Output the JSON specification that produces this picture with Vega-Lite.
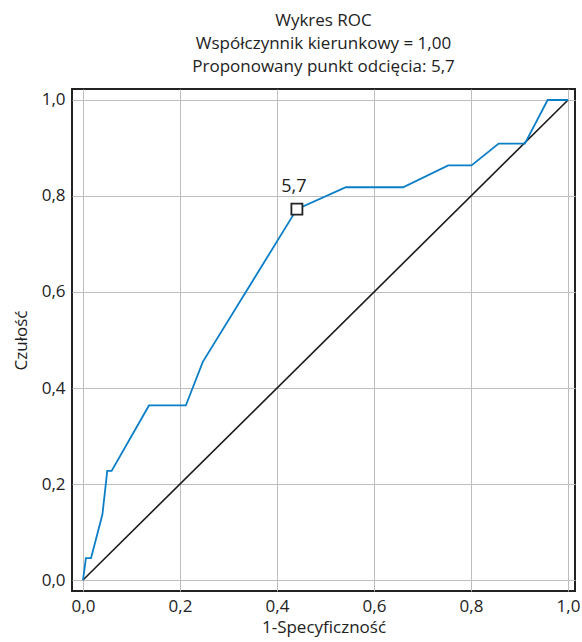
{
  "$schema": "https://vega.github.io/schema/vega-lite/v6.json",
  "width": 503,
  "height": 502,
  "autosize": "none",
  "padding": {"left": 72, "top": 89, "right": 7, "bottom": 51},
  "background": "white",
  "title": {
    "text": ["Wykres ROC", "Współczynnik kierunkowy = 1,00", "Proponowany punkt odcięcia: 5,7"],
    "anchor": "middle",
    "frame": "group",
    "font": "Open Sans",
    "fontSize": 17,
    "fontWeight": "normal",
    "lineHeight": 23,
    "color": "#222222",
    "offset": 13
  },
  "config": {
    "view": {"stroke": "#222222", "strokeWidth": 2},
    "axis": {
      "labelFont": "Open Sans",
      "labelFontSize": 17,
      "labelColor": "#222222",
      "titleFont": "Open Sans",
      "titleFontSize": 17,
      "titleFontWeight": "normal",
      "titleColor": "#222222",
      "domain": false,
      "ticks": false,
      "gridColor": "#bdbdbd",
      "gridWidth": 1,
      "gridOpacity": 1
    }
  },
  "datasets": {
    "roc": [
      {"i": 0, "x": 0.0, "y": 0.0},
      {"i": 1, "x": 0.006, "y": 0.0455},
      {"i": 2, "x": 0.0165, "y": 0.0455},
      {"i": 3, "x": 0.040, "y": 0.1364},
      {"i": 4, "x": 0.050, "y": 0.2273},
      {"i": 5, "x": 0.059, "y": 0.2273},
      {"i": 6, "x": 0.136, "y": 0.3636},
      {"i": 7, "x": 0.212, "y": 0.3636},
      {"i": 8, "x": 0.247, "y": 0.4545},
      {"i": 9, "x": 0.441, "y": 0.7727},
      {"i": 10, "x": 0.542, "y": 0.8182},
      {"i": 11, "x": 0.660, "y": 0.8182},
      {"i": 12, "x": 0.753, "y": 0.8636},
      {"i": 13, "x": 0.801, "y": 0.8636},
      {"i": 14, "x": 0.857, "y": 0.9091},
      {"i": 15, "x": 0.911, "y": 0.9091},
      {"i": 16, "x": 0.958, "y": 1.0},
      {"i": 17, "x": 1.0, "y": 1.0}
    ],
    "diag": [
      {"x": 0, "y": 0},
      {"x": 1, "y": 1}
    ],
    "cut": [
      {"x": 0.441, "y": 0.7727, "label": "5,7"}
    ]
  },
  "layer": [
    {
      "data": {"name": "diag"},
      "mark": {"type": "line", "color": "#1a1a1a", "strokeWidth": 1.6, "clip": true},
      "encoding": {
        "x": {
          "field": "x", "type": "quantitative",
          "scale": {"domain": [-0.0227, 1.0144], "nice": false, "zero": false},
          "axis": {
            "title": "1-Specyficzność",
            "values": [0, 0.2, 0.4, 0.6, 0.8, 1.0],
            "labelExpr": "replace(format(datum.value, '.1f'), '.', ',')",
            "labelPadding": 7,
            "titlePadding": 5
          }
        },
        "y": {
          "field": "y", "type": "quantitative",
          "scale": {"domain": [-0.0229, 1.0229], "nice": false, "zero": false},
          "axis": {
            "title": "Czułość",
            "values": [0, 0.2, 0.4, 0.6, 0.8, 1.0],
            "labelExpr": "replace(format(datum.value, '.1f'), '.', ',')",
            "labelPadding": 7,
            "titlePadding": 11
          }
        }
      }
    },
    {
      "data": {"name": "roc"},
      "mark": {"type": "line", "color": "#0a7ec6", "strokeWidth": 1.8},
      "encoding": {
        "x": {"field": "x", "type": "quantitative"},
        "y": {"field": "y", "type": "quantitative"},
        "order": {"field": "i", "type": "quantitative"}
      }
    },
    {
      "data": {"name": "cut"},
      "mark": {"type": "point", "shape": "square", "size": 121, "filled": true, "fill": "white", "stroke": "#222222", "strokeWidth": 1.8, "opacity": 1},
      "encoding": {
        "x": {"field": "x", "type": "quantitative"},
        "y": {"field": "y", "type": "quantitative"}
      }
    },
    {
      "data": {"name": "cut"},
      "mark": {"type": "text", "font": "Open Sans", "fontSize": 18, "color": "#222222", "dx": -3, "dy": -22, "align": "center", "baseline": "middle"},
      "encoding": {
        "x": {"field": "x", "type": "quantitative"},
        "y": {"field": "y", "type": "quantitative"},
        "text": {"field": "label"}
      }
    }
  ]
}
